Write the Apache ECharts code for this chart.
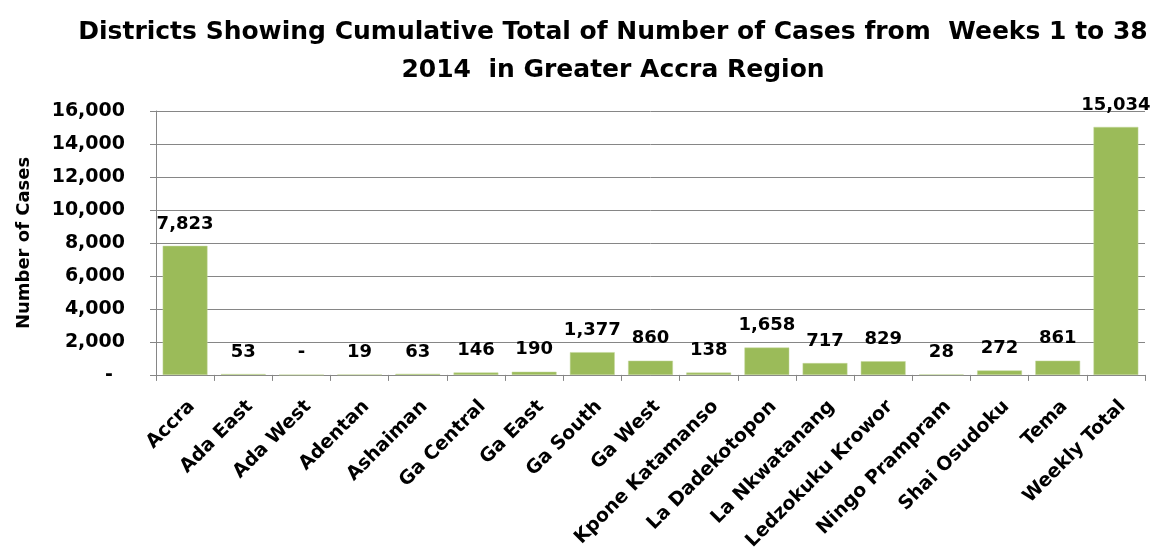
<!DOCTYPE html>
<html>
<head>
<meta charset="utf-8">
<script src="https://cdn.jsdelivr.net/npm/echarts@6/dist/echarts.min.js"></script>
<style>
  html, body { margin: 0; padding: 0; background: #ffffff; }
  #chart { width: 1154px; height: 553px; }
</style>
</head>
<body>
<div id="chart"></div>
<script>
const titleLines = [
  'Districts Showing Cumulative Total of Number of Cases from  Weeks 1 to 38',
  '2014  in Greater Accra Region'
];
const yAxisName = 'Number of Cases';
const districts = ['Accra', 'Ada East', 'Ada West', 'Adentan', 'Ashaiman', 'Ga Central', 'Ga East', 'Ga South', 'Ga West', 'Kpone Katamanso', 'La Dadekotopon', 'La Nkwatanang', 'Ledzokuku Krowor', 'Ningo Prampram', 'Shai Osudoku', 'Tema', 'Weekly Total'];
const cases = [7823, 53, 0, 19, 63, 146, 190, 1377, 860, 138, 1658, 717, 829, 28, 272, 861, 15034];
const yMin = 0, yMax = 16000, yStep = 2000;

const fmt = v => v === 0 ? '-' : v.toLocaleString('en-US');
const FONT = 'DejaVu Sans';

const chart = echarts.init(document.getElementById('chart'), null, { renderer: 'canvas' });
chart.setOption({
  animation: false,
  backgroundColor: '#ffffff',
  title: {
    text: titleLines.join('\n'),
    left: 608, top: 8, textAlign: 'center',
    textStyle: { fontFamily: 'DejaVu Sans', fontWeight: 'bold', fontSize: 25, lineHeight: 38, color: '#000' }
  },
  grid: { left: 156, right: 9, top: 111, bottom: 177, containLabel: false },
  xAxis: {
    type: 'category',
    data: districts,
    boundaryGap: true,
    axisLine: { show: true, lineStyle: { color: '#868686', width: 1 } },
    axisTick: { show: true, interval: 0, length: 6, lineStyle: { color: '#868686' } },
    axisLabel: {
      interval: 0, rotate: 45, margin: 22, align: 'right', verticalAlign: 'top',
      fontFamily: FONT, fontWeight: 'bold', fontSize: 19, color: '#000'
    }
  },
  yAxis: {
    type: 'value', min: yMin, max: yMax, interval: yStep,
    name: yAxisName, nameLocation: 'middle', nameGap: 123, nameRotate: 90,
    nameTextStyle: { fontFamily: FONT, fontWeight: 'bold', fontSize: 18, color: '#000' },
    axisLine: { show: true, lineStyle: { color: '#868686', width: 1 } },
    axisTick: { show: true, length: 6, lineStyle: { color: '#868686' } },
    splitLine: { show: true, lineStyle: { color: '#868686', width: 1 } },
    axisLabel: {
      margin: 31, fontFamily: FONT, fontWeight: 'bold', fontSize: 19, color: '#000',
      formatter: v => v === 0 ? '{d|-}' : fmt(v),
      rich: { d: { fontFamily: FONT, fontWeight: 'bold', fontSize: 19, color: '#000', padding: [0, 12, 0, 0] } }
    }
  },
  series: [{
    type: 'bar',
    data: cases,
    barCategoryGap: '23%',
    itemStyle: { color: '#9BBB59', borderColor: '#C3D69B', borderWidth: 0.5 },
    label: {
      show: true, position: 'top', distance: 13,
      fontFamily: FONT, fontWeight: 'bold', fontSize: 18, color: '#000',
      formatter: p => fmt(p.value)
    }
  }]
});
</script>
</body>
</html>
